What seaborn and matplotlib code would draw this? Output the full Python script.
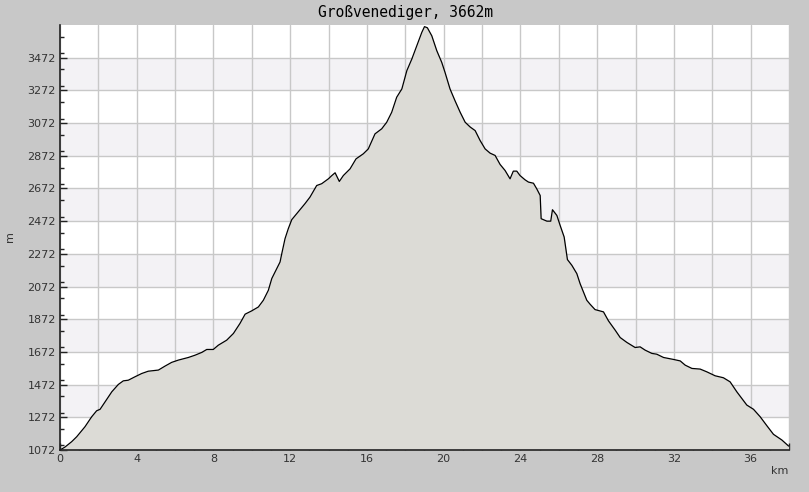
import matplotlib
matplotlib.use('Agg')
import matplotlib.pyplot as plt
from matplotlib.ticker import MultipleLocator, FuncFormatter
import seaborn as sns
import pandas as pd

# Hoehenprofil Großvenediger
km = [0.00, 0.26, 0.61, 0.87, 1.30, 1.65, 1.91, 2.09, 2.35, 2.70, 3.04, 3.30, 3.56, 3.91,
      4.26, 4.60, 5.13, 5.47, 5.82, 6.17, 6.69, 7.04, 7.39, 7.65, 7.99, 8.25, 8.69, 9.04,
      9.38, 9.65, 9.99, 10.34, 10.60, 10.86, 11.04, 11.30, 11.47, 11.56, 11.73, 11.90,
      12.08, 12.34, 12.51, 12.77, 13.03, 13.38, 13.64, 13.99, 14.17, 14.34, 14.56, 14.77,
      15.12, 15.43, 15.81, 16.07, 16.42, 16.77, 17.03, 17.29, 17.55, 17.82, 18.08, 18.34,
      18.60, 18.86, 19.00, 19.15, 19.38, 19.64, 19.90, 20.07, 20.33, 20.59, 20.86, 21.12,
      21.38, 21.64, 21.90, 22.16, 22.42, 22.68, 22.94, 23.20, 23.46, 23.63, 23.81, 23.98,
      24.24, 24.42, 24.68, 24.85, 25.03, 25.08, 25.38, 25.58, 25.67, 25.90, 26.07, 26.28,
      26.45, 26.68, 26.94, 27.11, 27.46, 27.63, 27.89, 28.33, 28.59, 28.94, 29.20, 29.55,
      29.98, 30.24, 30.50, 30.85, 31.11, 31.46, 31.98, 32.33, 32.59, 32.94, 33.37, 33.72,
      34.15, 34.58, 34.93, 35.28, 35.80, 36.15, 36.50, 36.85, 37.19, 37.63, 37.98]
hoehe = [1072, 1090, 1123, 1153, 1214, 1275, 1312, 1321, 1367, 1428, 1473, 1495, 1499, 1520,
         1540, 1554, 1561, 1585, 1608, 1622, 1638, 1652, 1669, 1687, 1687, 1713, 1744, 1785,
         1846, 1903, 1923, 1947, 1988, 2049, 2121, 2182, 2222, 2273, 2365, 2426,
         2481, 2518, 2542, 2579, 2619, 2690, 2701, 2731, 2751, 2768, 2715, 2751,
         2792, 2853, 2884, 2914, 3006, 3037, 3077, 3138, 3230, 3281, 3393, 3464,
         3545, 3627, 3662, 3655, 3606, 3515, 3443, 3382, 3281, 3209, 3138, 3077,
         3048, 3026, 2965, 2914, 2888, 2874, 2819, 2782, 2731, 2778, 2778, 2751,
         2725, 2711, 2704, 2670, 2629, 2487, 2472, 2472, 2542, 2507, 2446, 2375,
         2237, 2202, 2151, 2090, 1988, 1964, 1931, 1917, 1862, 1805, 1760, 1730,
         1699, 1703, 1683, 1663, 1658, 1638, 1626, 1617, 1591, 1571, 1567, 1550,
         1526, 1514, 1489, 1428, 1347, 1321, 1275, 1220, 1168, 1133, 1096]

titel = 'Großvenediger, 3662m'
y_min, y_max = 1072, 3672
x_max = 38.0

df = pd.DataFrame({'km': km, 'hoehe': hoehe})

sns.set_style('white')
fig = plt.figure(figsize=(8.09, 4.92), dpi=100, facecolor='#c8c8c8')
ax = fig.add_axes([60 / 809, 42 / 492, 729 / 809, 425 / 492])
ax.set_facecolor('white')

# abwechselnde Baender
for b in range(y_min + 200, y_max, 400):
    ax.axhspan(b, b + 200, color='#f3f2f5', zorder=0.1, lw=0)

ax.fill_between(df['km'], df['hoehe'], y_min, color='#dcdbd6', zorder=1, lw=0)
sns.lineplot(data=df, x='km', y='hoehe', ax=ax, color='black', lw=0.9, zorder=2)

ax.set_xlim(0, x_max)
ax.set_ylim(y_min, y_max)

ax.xaxis.set_major_locator(MultipleLocator(2))
ax.xaxis.set_minor_locator(MultipleLocator(1))
ax.xaxis.set_major_formatter(FuncFormatter(lambda v, p: f'{int(v)}' if int(round(v)) % 4 == 0 else ''))
ax.set_yticks(range(y_min, y_max, 200))
ax.yaxis.set_minor_locator(MultipleLocator(100))

ax.grid(True, which='major', color='#c8c8c8', lw=1, zorder=0.5)
ax.set_axisbelow(True)

ax.tick_params(which='major', direction='in', length=5, width=1, color='#222222',
               labelsize=8, labelcolor='#333333', pad=3)
ax.tick_params(which='minor', direction='in', length=3, width=1, color='#222222')
ax.tick_params(axis='y', which='both', left=True)
ax.tick_params(axis='x', which='both', bottom=True)

for s in ['top', 'right']:
    ax.spines[s].set_visible(False)
for s in ['left', 'bottom']:
    ax.spines[s].set_color('#222222')
    ax.spines[s].set_linewidth(1.2)

ax.set_xlabel('')
ax.set_ylabel('')
fig.text(10 / 809, 1 - 237 / 492, 'm', rotation=90, ha='center', va='center',
         fontsize=8, color='#333333')
fig.text(780 / 809, 1 - 471 / 492, 'km', ha='center', va='center',
         fontsize=8, color='#333333')
fig.text(405 / 809, 1 - 12 / 492, titel, ha='center', va='center',
         fontsize=10.5, family='DejaVu Sans Mono', color='black')

fig.savefig('out.png', dpi=100, facecolor=fig.get_facecolor())
